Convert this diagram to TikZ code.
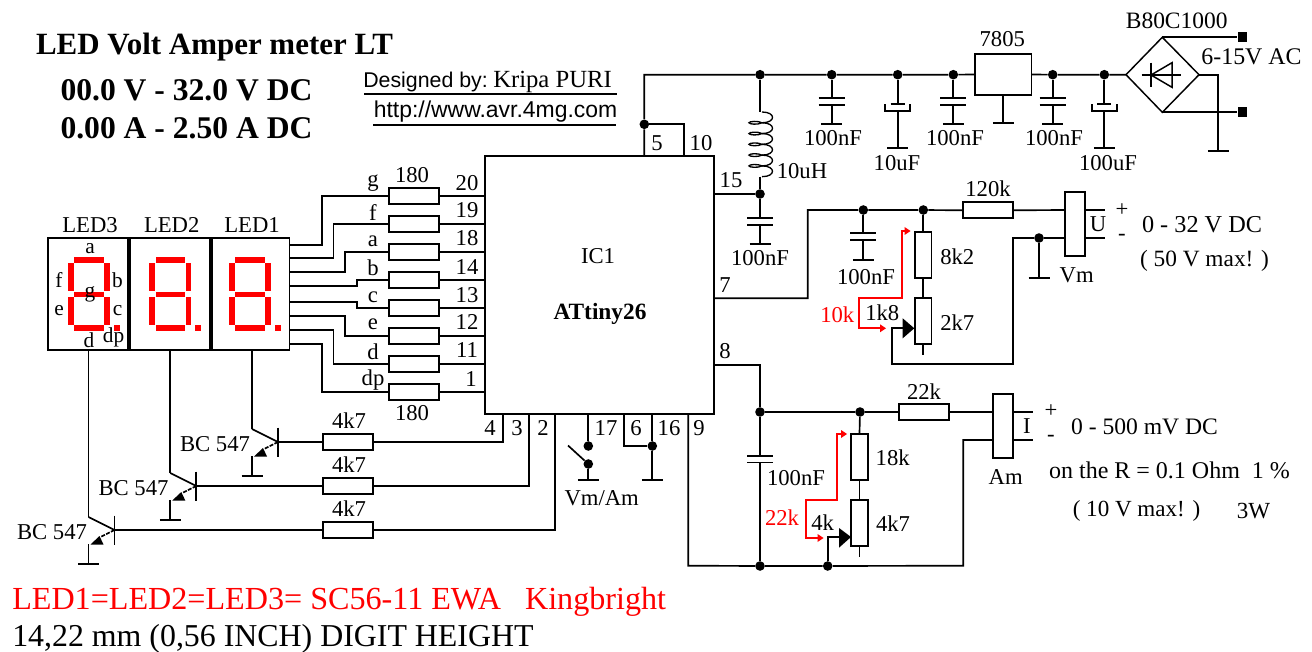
\documentclass[tikz,border=0pt]{standalone}
\usepackage{fontspec}
\setmainfont{Liberation Serif}
\setsansfont{Liberation Sans}
\definecolor{ledred}{RGB}{255,0,0}
\newcommand{\fsz}[1]{\fontsize{#1}{#1}\selectfont}
\tikzset{
  wire/.style={line width=1.25pt,black},
  thinwire/.style={line width=1pt,black},
  redwire/.style={line width=1.25pt,ledred},
  hres/.style={draw,line width=1.25pt,fill=white,rectangle,minimum width=37.5pt,minimum height=12pt,inner sep=0pt},
  vres/.style={draw,line width=1.25pt,fill=white,rectangle,minimum width=12.4pt,minimum height=34.5pt,inner sep=0pt},
  dotn/.style={circle,fill=black,inner sep=0pt,minimum size=7.2pt},
  term/.style={rectangle,fill=black,inner sep=0pt,minimum size=7.2pt},
  meter/.style={draw,line width=1.25pt,fill=white,rectangle,minimum width=15pt,minimum height=48pt,inner sep=0pt},
  lbl/.style={inner sep=0pt,font=\fsz{17}},
  lblsm/.style={inner sep=0pt,font=\fsz{16}},
  redlbl/.style={inner sep=0pt,font=\fsz{17},text=ledred},
  title/.style={inner sep=0pt,font=\bfseries\fsz{23.2}},
  webtxt/.style={inner sep=0pt,font=\sffamily\fsz{16}},
  ledbox/.style={draw,line width=1.3pt,rectangle,inner sep=0pt,minimum height=84pt},
}
% ground bar under a named point
\newcommand{\gnd}[2]{\draw[wire] (#1-10.5,#2) -- (#1+10.5,#2);}
% seven-segment digit: #1 = x offset from LED1
\newcommand{\sevseg}[1]{\begin{scope}[xshift=#1*0.75pt]
  \fill[ledred] (235.3,257.3) rectangle (265,263.3);
  \fill[ledred] (229,263.3) rectangle (235,291.3);
  \fill[ledred] (265.3,263.3) rectangle (271,291.3);
  \fill[ledred] (235.3,291.5) rectangle (265,297);
  \fill[ledred] (229,297) rectangle (235,325.3);
  \fill[ledred] (265.3,297) rectangle (271,325.3);
  \fill[ledred] (235.3,325.3) rectangle (265,331.3);
  \fill[ledred] (275,325.3) rectangle (281,331.3);
\end{scope}}
% plain capacitor: #1 x, #2 plate-1 y
\newcommand{\capplates}[2]{\draw[wire] (#1-13,#2) -- (#1+13,#2) (#1-13,#2+6.5) -- (#1+13,#2+6.5);}
% electrolytic: #1 x, #2 top plate y
\newcommand{\elcap}[2]{\draw[wire] (#1-7,#2) -- (#1+7,#2);
  \draw[wire] (#1-12.5,#2) -- (#1-12.5,#2+6.5) -- (#1+12.5,#2+6.5) -- (#1+12.5,#2);}
% transistor: #1 name, #2 collector x, #3 y of the collector bend
\newcommand{\npn}[3]{
  \coordinate (#1c) at (#2,#3);
  \coordinate (#1b) at (#2+26,#3+13);
  \coordinate (#1e) at (#2,#3+27);
  \draw[wire] (#1c) -- (#1b);
  \draw[wire] (#2+26,#3-1.5) -- (#2+26,#3+27.5);
  \draw[wire,dash pattern=on 3pt off 1pt] (#1b) -- (#2+12,#3+20);
  \fill (#2+11,#3+19) -- (#2+15,#3+27.5) -- (#2+2,#3+27.5) -- cycle;
  \draw[wire] (#2,#3+27) -- (#2,#3+47);
  \gnd{#2}{#3+47}
}
\begin{document}
\begin{tikzpicture}[x=0.75pt,y=-0.75pt]
\useasboundingbox (0,0) rectangle (1312,652);
\fill[white] (0,0) rectangle (1312,652);

% ---------- titles
\node[title] (t1) at (214.5,47) {LED Volt Amper meter LT};
\node[title,font=\bfseries\fsz{23.7}] (t2) at (186.5,90) {00.0 V - 32.0 V DC};
\node[title,font=\bfseries\fsz{23.7}] (t3) at (186.5,128) {0.00 A - 2.50 A DC};
\node[webtxt,anchor=west] (t4) at (363,82) {Designed by:};
\node[lbl,anchor=west,font=\fsz{18.5}] (t4b) at (493,82) {Kripa PURI};
\node[webtxt,font=\sffamily\fsz{17.2}] (t5) at (495.5,112) {http://www.avr.4mg.com};
\draw[wire] (364,94.3) -- (617,94.3);
\draw[wire] (373,125) -- (616,125);

% ---------- IC
\node[draw,line width=1.25pt,rectangle,inner sep=0pt,minimum width=171.75pt,minimum height=193.5pt] (ic) at (599.5,285) {};
\node[lbl] (icname) at (598,256) {IC1};
\node[lbl,font=\bfseries\fsz{17.5}] (icpart) at (600,314) {ATtiny26};

% ---------- LED displays
\node[ledbox,minimum width=60pt] (led3) at (88,294) {};
\node[ledbox,minimum width=60pt] (led2) at (170,294) {};
\node[ledbox,minimum width=58pt] (led1) at (250.8,294) {};
\sevseg{-161.3}
\sevseg{-79.6}
\sevseg{0}
\node[lbl] at (90,225) {LED3};
\node[lbl] at (171.7,225) {LED2};
\node[lbl] at (252,225) {LED1};
\node[lblsm] at (90,249) {a};
\node[lblsm] at (59,280) {f};
\node[lblsm] at (117.5,280) {b};
\node[lblsm] at (90,294) {g};
\node[lblsm] at (59,311) {e};
\node[lblsm] at (117.5,311) {c};
\node[lblsm] at (89,340) {d};
\node[lblsm] at (113.5,337) {dp};

% ---------- segment resistors
\foreach \n/\yy/\xr/\yl/\pn/\py/\sg/\ly in {1/196/322/245/20/183/g/183,2/224/333.5/258/19/210/f/213,3/252/345/272/18/238/a/241,4/280/357/286/14/267/b/268,5/308/357/302/13/295/c/297,6/336/345/316/12/322/e/324,7/364/333.5/330/11/350/d/352,8/392/322/344/1/379/dp/380}{
  \node[hres] (R\n) at (414,\yy) {};
  \coordinate (icp\n) at (485,\yy);
  \coordinate (ledp\n) at (290,\yl);
  \draw[wire] (R\n.east) -- (icp\n);
  \draw[wire] (R\n.west) -- (\xr,\yy) -- (\xr,\yl) -- (ledp\n);
  \node[lbl] at (\ifnum\n=8 471\else 467\fi,\py) {\pn};
  \node[lbl] at (373,\ly) {\sg};
}
\node[lbl] at (412,175) {180};
\node[lbl] at (412,413) {180};

% ---------- transistors and base resistors
\npn{qa}{252}{429}
\npn{qb}{170.3}{473}
\npn{qc}{88.5}{517}
\draw[wire] (252,350) -- (qac);
\draw[wire] (170.3,350) -- (qbc);
\draw[wire] (88.5,350) -- (qcc);
\node[lbl] at (215,444) {BC 547};
\node[lbl] at (133.5,488) {BC 547};
\node[lbl] at (52,532) {BC 547};
\node[hres] (Ra) at (348,442) {};
\node[hres] (Rb) at (348,486) {};
\node[hres] (Rc) at (348,530) {};
\node[lbl] at (349,421) {4k7};
\node[lbl] at (349,465) {4k7};
\node[lbl] at (349,509) {4k7};
\draw[wire] (qab) -- (Ra.west);
\draw[wire] (qbb) -- (Rb.west);
\draw[wire] (qcb) -- (Rc.west);
\draw[wire] (Ra.east) -- (503,442) -- (503,414);
\draw[wire] (Rb.east) -- (529,486) -- (529,414);
\draw[wire] (Rc.east) -- (554.7,530) -- (554.7,414);

% ---------- bottom pins
\node[lbl] at (490,428) {4};
\node[lbl] at (517,428) {3};
\node[lbl] at (543,428) {2};
\node[lbl] at (606,428) {17};
\node[lbl] at (636,428) {6};
\node[lbl] at (669,428) {16};
\node[lbl] at (699,428) {9};
\node[dotn] (sw1) at (588.3,446) {};
\node[dotn] (sw2) at (588.3,464) {};
\coordinate (swarm) at (568,445.5);
\draw[wire] (588.3,414) -- (sw1);
\draw[wire] (swarm) -- (sw2);
\draw[wire] (sw2) -- (588.3,480);
\gnd{588.3}{480}
\node[lbl] at (601.7,498) {Vm/Am};
\node[dotn] (p16) at (652.3,446) {};
\draw[wire] (624.3,414) -- (624.3,446) -- (p16);
\draw[wire] (652.3,414) -- (p16) -- (652.3,480);
\gnd{652.3}{480}

% ---------- supply rail
\node[dotn] (r0) at (644.3,124.3) {};
\node[dotn] (r1) at (760,74.7) {};
\node[dotn] (r2) at (831.7,74.7) {};
\node[dotn] (r3) at (897.7,74.7) {};
\node[dotn] (r4) at (953.3,74.7) {};
\node[dotn] (r5) at (1052.7,74.7) {};
\node[dotn] (r6) at (1104.3,74.7) {};
\node[draw,line width=1.25pt,rectangle,inner sep=0pt,minimum width=42.2pt,minimum height=30.3pt,fill=white] (reg) at (1003.2,74.5) {};
\node[lbl] at (1002.3,39.3) {7805};
\draw[wire] (644.3,156) -- (r0) -- (644.3,74.7) -- (r1) -- (r2) -- (r3) -- (r4) -- (reg.west);
\draw[wire] (reg.east) -- (r5) -- (r6) -- (1126,74.7);
\draw[wire] (r0) -- (684.3,124.3) -- (684.3,156);
\draw[wire] (1003.3,94.7) -- (1003.3,122.7);
\gnd{1003.3}{122.7}
\node[lbl] at (657,143) {5};
\node[lbl] at (701,143) {10};
\node[lbl] at (731,180) {15};

% inductor
\node[dotn] (l1) at (760,194) {};
\draw[wire] (r1) -- (760,112);
\draw[wire] (760,176.7) -- (l1);
\draw[wire] (714,194) -- (l1);
\foreach \i in {0,1,2,3,4,5}{
  \pgfmathsetmacro{\ya}{112+\i*10.78}
  \pgfmathsetmacro{\yb}{112+(\i+1)*10.78}
  \draw[thinwire] (762,\ya) .. controls (776,\ya) and (776,\yb) .. (762,\yb);
}
\foreach \i in {1,2,3,4,5}{
  \pgfmathsetmacro{\ya}{112+\i*10.78}
  \draw[thinwire] (762,\ya) .. controls (758,\ya-2.2) and (749,\ya-1.5) .. (749,\ya)
     .. controls (749,\ya+1.5) and (758,\ya+2.2) .. (762,\ya);
}
\node[lbl] at (802,171) {10uH};

% caps on rail
\draw[wire] (r2) -- (831.7,98.3) (831.7,104.8) -- (831.7,124.3);
\capplates{831.7}{98.3} \gnd{831.7}{124.3}
\node[lbl] at (833,138) {100nF};
\draw[wire] (r3) -- (897.7,104.3) (897.7,110.8) -- (897.7,148.3);
\elcap{897.7}{104.3} \gnd{897.7}{148.3}
\node[lbl] at (897,163) {10uF};
\draw[wire] (r4) -- (953.3,98.3) (953.3,104.8) -- (953.3,124.3);
\capplates{953.3}{98.3} \gnd{953.3}{124.3}
\node[lbl] at (955,138) {100nF};
\draw[wire] (r5) -- (1052.7,98.3) (1052.7,104.8) -- (1052.7,124.3);
\capplates{1052.7}{98.3} \gnd{1052.7}{124.3}
\node[lbl] at (1054,138) {100nF};
\draw[wire] (r6) -- (1104.3,104.3) (1104.3,110.8) -- (1104.3,148.3);
\elcap{1104.3}{104.3} \gnd{1104.3}{148.3}
\node[lbl] at (1108,163) {100uF};

% L1 decoupling cap
\draw[wire] (l1) -- (760,218.3) (760,224.5) -- (760,244);
\capplates{760}{218.3} \gnd{760}{244}
\node[lbl] at (760,258) {100nF};

% ---------- bridge
\coordinate (bt) at (1162.3,37.3);
\coordinate (bl) at (1126,74.7);
\coordinate (br) at (1199,74.7);
\coordinate (bb) at (1162.3,112.3);
\draw[line width=1.1pt] (bt) -- (br) -- (bb) -- (bl) -- cycle;
\draw[line width=1.1pt] (1141.7,75) -- (1181,75);
\draw[line width=1.1pt] (1151,62.7) -- (1151,87.3);
\draw[line width=1.1pt] (1172,62.7) -- (1172,87.3) -- (1151,75) -- cycle;
\node[term] (ac1) at (1242.3,37.3) {};
\node[term] (ac2) at (1242.3,112.3) {};
\draw[wire] (bt) -- (ac1);
\draw[wire] (bb) -- (ac2);
\draw[wire] (br) -- (1218.3,74.7) -- (1218.3,150.7);
\gnd{1218.3}{150.7}
\node[lbl,font=\fsz{17.6}] at (1176.7,21) {B80C1000};
\node[lbl,font=\fsz{17.9}] at (1251.5,57) {6-15V AC};

% ---------- voltage divider
\node[dotn] (v1) at (863.3,210) {};
\node[dotn] (v2) at (923.3,210) {};
\node[hres] (r120) at (988.2,210.3) {};
\node[meter] (vm) at (1075,224.3) {};
\node[dotn] (v3) at (1039,238) {};
\draw[wire] (714,298.3) -- (807.7,298.3) -- (807.7,210) -- (v1) -- (v2) -- (r120.west);
\draw[wire] (r120.east) -- (1065,210);
\draw[wire] (1085,210) -- (1105,210) (1085,238) -- (1105,238);
\node[lbl] at (1098,224) {U};
\node[lbl] at (988,189) {120k};
\draw[wire] (v1) -- (863.3,233.3) (863.3,239.8) -- (863.3,260.3);
\capplates{863.3}{233.3} \gnd{863.3}{260.3}
\node[lbl] at (866,277.3) {100nF};
\node[vres] (r82) at (923.3,255.2) {};
\node[vres] (p27) at (923.3,321.3) {};
\draw[wire] (v2) -- (r82.north);
\draw[wire] (r82.south) -- (p27.north);
\draw[wire] (p27.south) -- (923.3,355);
\node[lbl] at (957.3,256.7) {8k2};
\node[lbl] at (957.3,322.7) {2k7};
\fill (914.3,328.3) -- (902.7,318.3) -- (902.7,338.3) -- cycle;
\draw[wire] (903,328.3) -- (891.7,328.3) -- (891.7,364) -- (1012.7,364) -- (1012.7,238) -- (v3) -- (1065,238);
\draw[wire] (v3) -- (1039,278.3);
\gnd{1039}{278.3}
\node[lbl] at (1076.7,275) {Vm};
\node[lbl] at (882.3,313) {1k8};
\node[redlbl] at (837.3,315) {10k};
\draw[redwire] (882,328.3) -- (859.3,328.3) -- (859.3,298.3) -- (901.7,298.3) -- (901.7,231) -- (906,231);
\fill[ledred] (910.5,231) -- (904.5,227) -- (904.5,235) -- cycle;
\fill[ledred] (886,328.3) -- (880,324.3) -- (880,332.3) -- cycle;
\node[lbl] at (1122,210) {+};
\node[lbl] at (1122,237) {-};
\node[lbl,font=\fsz{18.2}] at (1202,225) {0 - 32 V DC};
\node[lbl,font=\fsz{17.5}] at (1204.5,261) {( 50 V max! )};

% ---------- current divider
\node[dotn] (a1) at (760,412) {};
\node[dotn] (a2) at (860,412) {};
\node[hres] (r22) at (924.2,412) {};
\node[meter] (am) at (1003,426) {};
\node[dotn] (a3) at (760,566) {};
\node[dotn] (a4) at (827.7,566) {};
\draw[wire] (714,365) -- (760,365) -- (a1) -- (a2) -- (r22.west);
\draw[wire] (r22.east) -- (993,412);
\draw[wire] (1013,412) -- (1033,412) (1013,440) -- (1033,440);
\node[lbl] at (1027,426) {I};
\node[lbl] at (924,391.7) {22k};
\draw[wire] (a1) -- (760,456) (760,462.5) -- (a3);
\capplates{760}{456}
\node[lbl] at (796,478) {100nF};
\node[vres] (r18) at (859.5,456.7) {};
\node[vres] (p47) at (859.5,522.8) {};
\draw[wire] (a2) -- (r18.north);
\draw[wire] (r18.south) -- (p47.north);
\draw[wire] (p47.south) -- (859.5,556.7);
\node[lbl] at (892.7,458) {18k};
\node[lbl] at (893,524) {4k7};
\fill (851,537) -- (839,528) -- (839,547.7) -- cycle;
\draw[wire] (839.5,537) -- (827.7,537) -- (a4);
\draw[wire] (688.3,414) -- (688.3,565.7) -- (a3) -- (a4) -- (963.3,565.7) -- (963.3,440) -- (993,440);
\node[lbl] at (822.7,523) {4k};
\node[redlbl] at (782,518) {22k};
\draw[redwire] (820,538) -- (805.7,538) -- (805.7,500) -- (837.3,500) -- (837.3,434) -- (842,434);
\fill[ledred] (847,434) -- (841,430) -- (841,438) -- cycle;
\fill[ledred] (823.5,538) -- (817.5,534) -- (817.5,542) -- cycle;
\node[lbl] at (1005.7,477) {Am};
\node[lbl] at (1051,411) {+};
\node[lbl] at (1051,438) {-};
\node[lbl] at (725,285) {7};
\node[lbl] at (725,351) {8};
\node[lbl,font=\fsz{17.7}] at (1144.5,427) {0 - 500 mV DC};
\node[lbl,font=\fsz{18}] at (1169.5,470) {on the R = 0.1 Ohm\enspace 1 \%};
\node[lbl,font=\fsz{17.3}] at (1136.5,511) {( 10 V max! )};
\node[lbl,font=\fsz{17.3}] at (1253.5,511) {3W};

% ---------- footer
\node[inner sep=0pt,anchor=west,font=\fsz{24.1},text=ledred] at (12,602) {LED1=LED2=LED3= SC56-11 EWA\ \ \ Kingbright};
\node[inner sep=0pt,anchor=west,font=\fsz{23.9}] at (12,639) {14,22 mm (0,56 INCH) DIGIT HEIGHT};
\end{tikzpicture}
\end{document}
